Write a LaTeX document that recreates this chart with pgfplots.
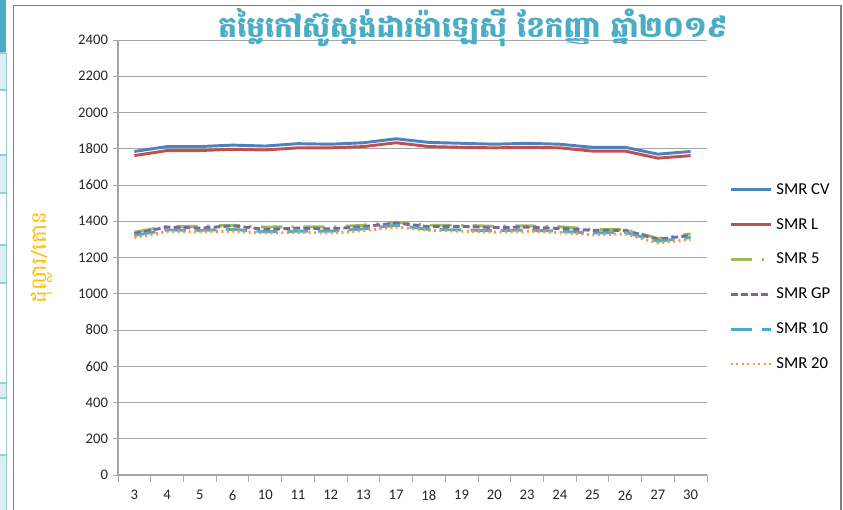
\documentclass[border=0pt]{standalone}
\usepackage{pgfplots}
\pgfplotsset{compat=1.18}
\usepackage{fontspec}
\setmainfont{Carlito}
\newfontfamily\khmer[Script=Khmer]{Battambang}
\definecolor{cCV}{HTML}{4F81BD}
\definecolor{cL}{HTML}{C0504D}
\definecolor{c5}{HTML}{9BBB59}
\definecolor{cGP}{HTML}{8064A2}
\definecolor{c10}{HTML}{4BACC6}
\definecolor{c20}{HTML}{F79646}
\definecolor{ttl}{HTML}{4BACC6}
\definecolor{ylab}{HTML}{FFC000}
\definecolor{gridc}{HTML}{A6A6A6}
\definecolor{cellb}{HTML}{92CDDC}
\definecolor{cellf}{HTML}{DAEEF3}
\pgfplotstableread{
x  CV    L     S5    GP    S10   S20
0  1785  1762  1340  1332  1322  1310
1  1812  1790  1372  1368  1352  1342
2  1812  1790  1372  1362  1350  1342
3  1820  1797  1378  1375  1355  1345
4  1815  1793  1368  1355  1342  1335
5  1828  1805  1370  1362  1345  1338
6  1825  1805  1368  1358  1345  1335
7  1833  1812  1378  1370  1358  1348
8  1855  1833  1395  1390  1378  1368
9  1835  1812  1378  1370  1355  1350
10 1830  1808  1378  1372  1352  1345
11 1825  1805  1372  1365  1348  1340
12 1830  1808  1375  1368  1352  1345
13 1825  1805  1370  1360  1345  1338
14 1808  1787  1355  1350  1335  1325
15 1808  1787  1355  1350  1338  1330
16 1770  1748  1305  1300  1290  1280
17 1785  1762  1330  1322  1310  1300
}\data
\begin{document}
\begin{tikzpicture}[x=0.75pt,y=0.75pt]
\useasboundingbox (0,0) rectangle (843,510);
% spreadsheet remnants (y measured from bottom)
\fill[ttl] (0,510) rectangle (6,457);
\foreach \a/\b in {457/420,355/317,265/227,127/112,55/0}{\fill[cellf] (0,\a) rectangle (6,\b);}
\foreach \yy in {457,420,355,317,265,227,127,112,55}{\draw[cellb,line width=1pt] (0,\yy) -- (6,\yy);}
\draw[cellb,line width=1.2pt] (6.5,457) -- (6.5,0);
\draw[gray,line width=1.2pt] (13.5,0) -- (13.5,504.5) -- (841,504.5) -- (841,0);
\begin{axis}[
  at={(88.5pt,26.25pt)}, anchor=south west,
  scale only axis, width=441.75pt, height=326.25pt,
  xmin=-0.5, xmax=17.5, ymin=0, ymax=2400,
  xtick={0,...,17},
  xticklabels={3,4,5,6,10,11,12,13,17,18,19,20,23,24,25,26,27,30},
  minor xtick={-0.5,0.5,...,17.5},
  ytick={0,200,...,2400},
  ymajorgrids, grid style={gridc, line width=0.6pt},
  axis x line*=bottom, axis y line*=left,
  axis line style={gridc, line width=0.8pt},
  x axis line style={-}, y axis line style={-},
  tick align=outside,
  major tick length=4pt, minor tick length=5pt,
  xtick style={draw=none}, minor x tick style={draw=gridc, line width=0.6pt},
  ytick style={draw=gridc, line width=0.6pt},
  tick label style={font=\fontsize{11}{13}\selectfont, text=black!85},
  /pgf/number format/assume math mode=true,
  /pgf/number format/1000 sep={},
  xticklabel style={yshift=-4pt},
  ylabel={\khmer ដុល្លារ/តោន},
  ylabel style={font=\fontsize{16}{18}\selectfont, text=ylab, at={(axis description cs:-0.129,0.5)}, anchor=center},
  legend style={at={(rel axis cs:1.031,0.683)}, anchor=north west, draw=none, fill=none,
    font=\fontsize{12.5}{14}\selectfont, row sep=12.5pt, cells={anchor=west},
    nodes={inner xsep=3pt}},
  legend image code/.code={\draw[#1] (0pt,0pt) -- (30pt,0pt);},
]
\addplot[cCV, line width=2.2pt] table[x=x,y=CV]{\data};
\addlegendentry{SMR CV}
\addplot[cL, line width=2.2pt] table[x=x,y=L]{\data};
\addlegendentry{SMR L}
\addplot[c5, line width=2.2pt, dash pattern=on 16pt off 7pt on 1.8pt off 7pt] table[x=x,y=S5]{\data};
\addlegendentry{SMR 5}
\addplot[cGP, line width=2.2pt, dash pattern=on 5pt off 2.5pt] table[x=x,y=GP]{\data};
\addlegendentry{SMR GP}
\addplot[c10, line width=2.2pt, dash pattern=on 16pt off 7pt] table[x=x,y=S10]{\data};
\addlegendentry{SMR 10}
\addplot[c20, line width=2.2pt, dash pattern=on 1.5pt off 2.6pt] table[x=x,y=S20]{\data};
\addlegendentry{SMR 20}
\end{axis}
\node[text=ttl, font=\khmer\bfseries\fontsize{22}{26}\selectfont] at (473,482) {តម្លៃកៅស៊ូស្តង់ដារម៉ាឡេស៊ី ខែកញ្ញា ឆ្នាំ២០១៩};
\end{tikzpicture}
\end{document}
